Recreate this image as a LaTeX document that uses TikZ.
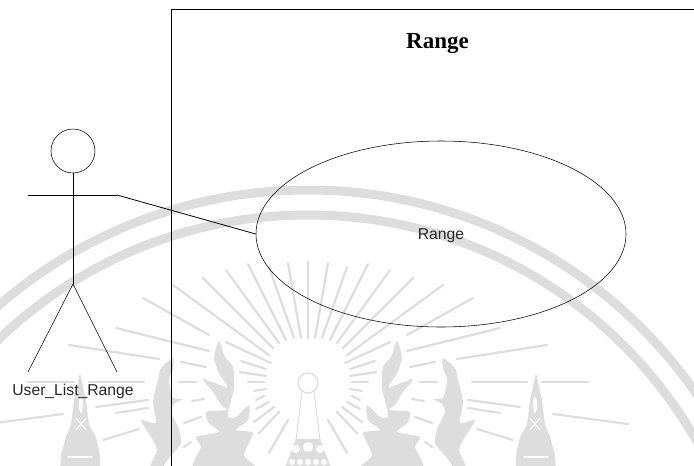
\documentclass[tikz,border=0pt]{standalone}
\usepackage{fontspec}
\setmainfont{Liberation Serif}
\setsansfont{Liberation Sans}
\usepackage{tikz}
\usetikzlibrary{shapes,positioning,calc}
\definecolor{markgray}{RGB}{221,221,221}

\begin{document}
\begin{tikzpicture}[x=1pt,y=-1pt]
\tikzstyle{band} = [draw=markgray, line width=9pt];
\tikzstyle{ray} = [draw=markgray, line width=2.2pt, line cap=round];
\tikzstyle{flame} = [fill=markgray, draw=none];
\tikzstyle{figure} = [draw=black, line width=0.55pt];
\tikzstyle{caption} = [font=\sffamily\fontsize{15.7}{18}\selectfont, text=black!85, text depth=0pt];

\useasboundingbox (0,0) rectangle (694,466);
\clip (0,0) rectangle (694,466);

% seal behind the diagram
\coordinate (arc) at (308,662);
\draw[band] (arc) circle (472);
\draw[band] (arc) circle (447);

\foreach \side in {1,-1} {
\begin{scope}[shift={(308,0)}, xscale=\side]
\foreach \xa/\ya/\xb/\yb in {0/338/0/262, 7/338/20/263, 14/338/39/267, 22/340/60/264, 29/343/82/270, 35/348/105/278, 39/355/135/285,
  37/363/82/342, 42/369/67/361, 42/376/68/372, 44/382/60/382, 42/389/54/391, 44/396/52/400, 39/402/52/409, 34/407/54/422, 29/412/49/433, 20/420/39/453,
  99/335/165/298, 99/351/192/328, 102/367/127/362, 112/382/129/382, 104/399/116/401, 107/417/124/423, 117/442/124/447,
  149/359/239/345, 164/382/219/382, 234/382/280/382, 160/400/212/407, 245/414/320/424, 169/429/205/440, 160/408/192/413}
  \draw[ray] (\xa,\ya) -- (\xb,\yb);
% flames
\fill[flame] plot[smooth cycle, tension=0.4] coordinates {(89,341) (94,358) (89,373) (81,387) (105,379) (95,392) (87,405) (81,410) (102,412) (99,423) (89,432) (112,437) (107,447) (114,470) (52,470) (64,455) (55,433) (72,430) (60,420) (59,405) (72,417) (80,417) (79,408) (74,388) (75,367) (83,357)};
\fill[flame] plot[smooth cycle, tension=0.4] coordinates {(135,358) (147,368) (150,380) (155,402) (152,423) (167,420) (157,437) (151,450) (159,470) (149,472) (139,458) (127,443) (130,427) (137,412) (134,404) (125,399) (135,398) (139,380) (135,368)};
% tower
\fill[flame] (228,373) -- (234,400) -- (237,425) -- (242,437) -- (247,455) -- (248,470) -- (208,470) -- (208,455) -- (212,437) -- (219,425) -- (222,400) -- cycle;
\fill[white] (227,405) ellipse (2 and 8);
\draw[white, line width=1.2pt] (222,418) -- (232,430) (232,418) -- (222,430);
\draw[white, line width=1.6pt, line cap=round] (216,457) -- (240,457);
% pillar
\draw[draw=markgray, line width=1pt] (0,383) circle (10);
\draw[draw=markgray, line width=1pt] (6,392) -- (12,440);
\fill[flame] (0,439) -- (12,439) -- (24,470) -- (0,470) -- cycle;
\fill[white] (0,447) circle (5) (12,449) circle (4);
\fill[white] (0,462) circle (3) (8,462) circle (3) (16,462) circle (3);
\end{scope}
}

% diagram
\draw[figure, line width=0.8pt] (171,470) -- (171,9) -- (698,9);

\node (title) at (437.5,44) [font=\rmfamily\bfseries\fontsize{23}{26}\selectfont] {Range};

\node (usecase) at (441,234) [ellipse, figure, minimum width=370pt, minimum height=186pt, inner sep=0pt, caption] {Range};

\node (head) at (73,151) [circle, figure, minimum size=44pt, inner sep=0pt] {};
\coordinate (hip) at (73,284);
\coordinate (handl) at (28,195);
\coordinate (handr) at (117,195);
\coordinate (footl) at (28,372);
\coordinate (footr) at (117,372);

\draw[figure] (head) -- (hip);
\draw[figure] (handl) -- (handr);
\draw[figure] (hip) -- (footl);
\draw[figure] (hip) -- (footr);
\draw[figure, line width=0.8pt] (handr) -- (usecase.west);

\node (actor) at (73,390) [caption] {User\_List\_Range};
\end{tikzpicture}
\end{document}
